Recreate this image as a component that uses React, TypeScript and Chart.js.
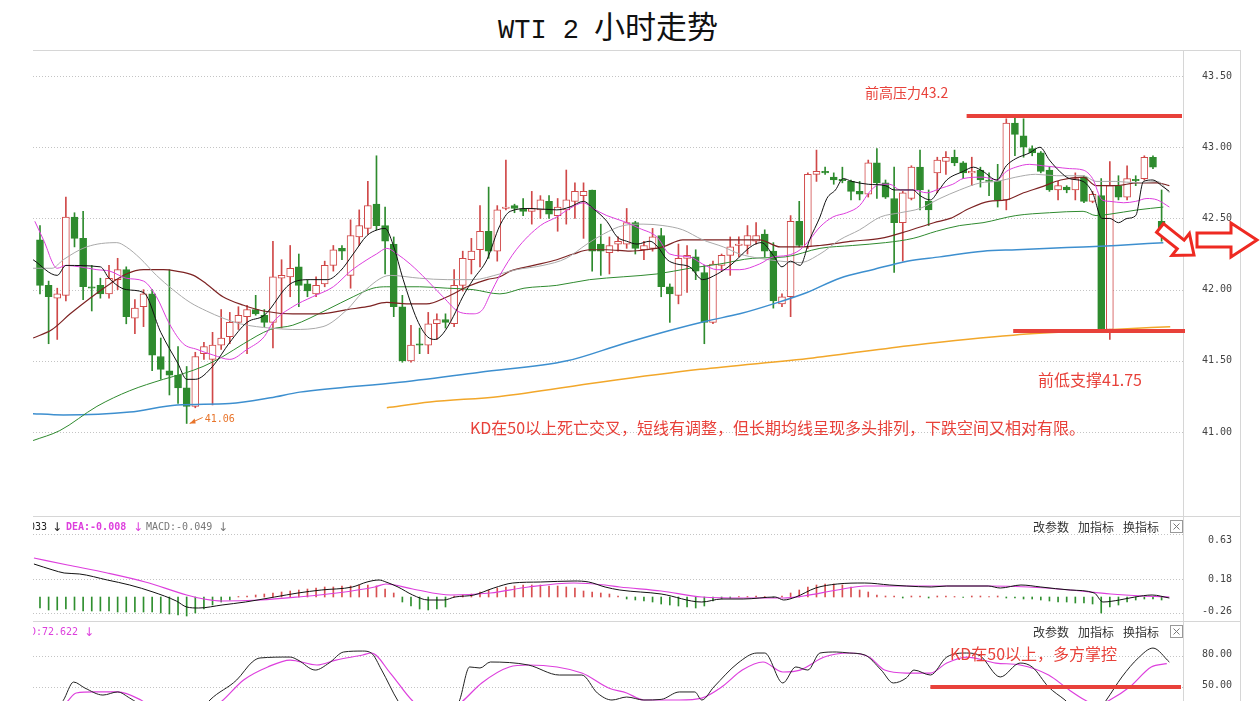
import React, { useEffect, useRef } from 'react';
import { Chart, registerables } from 'chart.js';
Chart.register(...registerables);

// ---------------- data ----------------
const X_MIN = -0.81;
const X_MAX = 132.48;

const opens = [42.35,42.03,41.94,41.96,42.51,42.36,42.02,42.03,41.97,42.07,42.14,41.80,41.88,41.97,41.53,41.43,41.40,41.31,41.18,41.55,41.51,41.61,41.67,41.77,41.81,41.86,41.82,41.77,42.08,42.09,42.16,42.04,41.97,42.04,42.17,42.29,42.10,42.37,42.43,42.60,42.45,42.32,41.88,41.50,41.62,41.61,41.76,41.79,41.76,42.03,42.21,42.28,42.41,42.27,42.57,42.59,42.57,42.55,42.56,42.62,42.52,42.56,42.62,42.66,42.70,42.32,42.26,42.32,42.32,42.47,42.28,42.29,42.38,42.02,41.96,42.22,42.23,42.12,41.77,42.17,42.24,42.31,42.31,42.34,42.39,42.27,41.90,41.95,42.48,42.30,42.81,42.83,42.79,42.775,42.76,42.69,42.67,42.89,42.75,42.64,42.47,42.64,42.86,42.62,42.82,42.90,42.93,42.89,42.82,42.84,42.77,42.76,42.63,43.17,43.08,42.99,42.96,42.84,42.70,42.72,42.70,42.79,42.62,42.66,41.72,42.73,42.65,42.775,42.78,42.93,42.48];
const highs = [42.45,42.06,42.01,42.65,42.54,42.55,42.17,42.08,42.17,42.22,42.16,41.93,42.00,42.00,41.66,42.14,41.60,41.46,41.56,41.63,41.70,41.86,41.84,41.88,41.89,41.96,41.86,42.34,42.21,42.31,42.25,42.07,42.09,42.20,42.31,42.31,42.49,42.56,42.76,42.94,42.58,42.37,41.96,41.75,41.73,41.84,41.83,41.83,42.14,42.27,42.36,42.59,42.72,42.59,42.91,42.60,42.64,42.69,42.66,42.66,42.64,42.84,42.75,42.75,42.70,42.46,42.37,42.37,42.57,42.48,42.34,42.43,42.43,42.04,42.32,42.31,42.28,42.17,42.20,42.25,42.37,42.37,42.45,42.47,42.42,42.33,41.97,42.52,42.62,42.82,42.98,42.86,42.82,42.86,42.77,42.76,42.91,42.99,42.77,42.86,42.69,42.87,42.98,42.70,42.93,42.97,42.98,42.90,42.93,42.86,42.82,42.88,43.20,43.21,43.20,43.01,42.97,42.86,42.76,42.73,42.82,42.80,42.69,42.78,42.90,42.80,42.87,42.80,42.94,42.94,42.70];
const lows = [41.97,41.62,41.65,41.92,42.30,41.93,41.85,41.94,41.94,42.00,41.76,41.69,41.74,41.43,41.37,41.26,41.20,41.06,41.17,41.51,41.19,41.58,41.62,41.72,41.55,41.82,41.74,41.59,41.73,41.95,41.88,41.95,41.95,42.02,42.13,42.21,42.01,42.31,42.39,42.42,42.11,41.81,41.49,41.49,41.55,41.55,41.65,41.73,41.74,41.99,42.11,42.16,42.22,42.20,42.56,42.54,42.52,42.46,42.50,42.50,42.41,42.46,42.50,42.36,42.13,42.10,42.11,42.27,42.29,42.25,42.21,42.27,41.95,41.77,41.90,41.98,42.07,41.62,41.76,42.13,42.10,42.23,42.25,42.32,42.23,41.87,41.88,41.81,42.30,42.29,42.76,42.81,42.74,42.75,42.63,42.63,42.65,42.64,42.64,42.12,42.20,42.63,42.56,42.45,42.68,42.81,42.87,42.78,42.73,42.72,42.66,42.58,42.56,42.94,42.93,42.94,42.82,42.69,42.63,42.68,42.63,42.61,42.61,41.71,41.65,42.63,42.63,42.73,42.77,42.85,42.34];
const closes = [42.03,41.95,41.97,42.51,42.36,42.02,42.01,41.97,42.08,42.14,41.81,41.87,41.97,41.54,41.44,41.40,41.31,41.18,41.53,41.60,41.61,41.66,41.77,41.82,41.86,41.83,41.77,42.09,42.10,42.15,42.03,41.99,42.03,42.17,42.28,42.27,42.38,42.45,42.59,42.45,42.34,41.88,41.50,41.61,41.61,41.76,41.79,41.77,42.03,42.22,42.27,42.41,42.27,42.56,42.58,42.57,42.55,42.57,42.63,42.53,42.58,42.63,42.69,42.69,42.27,42.27,42.31,42.34,42.47,42.29,42.31,42.37,42.02,41.97,42.22,42.24,42.13,41.77,42.18,42.24,42.30,42.32,42.38,42.38,42.27,41.92,41.95,42.48,42.31,42.81,42.83,42.82,42.77,42.765,42.69,42.67,42.89,42.75,42.65,42.47,42.68,42.86,42.70,42.56,42.91,42.93,42.89,42.82,42.83,42.77,42.76,42.63,43.17,43.09,43.00,42.96,42.83,42.70,42.73,42.70,42.78,42.62,42.67,41.72,42.73,42.65,42.78,42.765,42.93,42.86,42.43];

// moving average lines: [candle index, price]
const ma5: [number, number][] = [[-0.8,42.21],[2,42.10],[3,42.17],[7,42.16],[8,42.08],[10,42.00],[12,41.98],[14,41.70],[16,41.48],[17,41.37],[18,41.37],[20,41.46],[22,41.63],[24,41.77],[26,41.82],[29,42.04],[31.3,42.07],[33.3,42.07],[34.8,42.13],[36.3,42.25],[37.9,42.38],[39.1,42.42],[40,42.43],[40.9,42.32],[42.1,42.07],[43.7,41.79],[44.9,41.67],[45.8,41.65],[46.7,41.69],[47.9,41.81],[49,41.95],[50.2,42.07],[51.8,42.21],[53.3,42.45],[54.5,42.55],[56.8,42.57],[59.9,42.56],[61.4,42.58],[63,42.62],[64.1,42.57],[65.7,42.48],[66.9,42.37],[68,42.34],[69.2,42.32],[70.7,42.34],[71.6,42.30],[72.7,42.21],[73.8,42.18],[75.3,42.16],[76.8,42.07],[78.5,42.11],[80,42.17],[82.6,42.31],[83.6,42.33],[85,42.24],[86,42.16],[87,42.20],[88.1,42.17],[89.2,42.35],[90.4,42.51],[91.2,42.64],[92.2,42.70],[93.1,42.78],[94.1,42.76],[96,42.74],[98,42.73],[99,42.70],[101.2,42.70],[102,42.66],[103.2,42.63],[104.2,42.70],[105.1,42.77],[107,42.83],[108.2,42.86],[109.3,42.83],[110.9,42.77],[112,42.87],[113.1,42.92],[114.7,42.96],[115.9,43.00],[117,42.91],[118.2,42.83],[119.3,42.78],[120.9,42.76],[122,42.68],[123.1,42.50],[124,42.50],[125,42.47],[126,42.50],[127,42.52],[127.9,42.76],[129,42.77],[130,42.73],[130.9,42.69]];
const ma10: [number, number][] = [[-0.6,42.48],[0.4,42.35],[2,42.15],[3,42.17],[4.6,42.16],[6.6,42.14],[8.1,42.13],[10,42.08],[12,42.06],[13.5,41.95],[15,41.76],[16.6,41.62],[18.2,41.58],[20.1,41.54],[22,41.51],[24,41.58],[26,41.67],[27,41.77],[29.3,41.88],[31.6,41.95],[34,42.02],[36,42.13],[37.9,42.21],[39,42.25],[40.2,42.29],[41.4,42.25],[42.9,42.18],[44.8,42.07],[46.7,41.95],[48.7,41.84],[50.2,41.83],[51.3,41.86],[52.2,41.97],[53.3,42.10],[55.2,42.28],[58,42.45],[59.9,42.51],[61.4,42.57],[63,42.61],[64.1,42.57],[65.7,42.52],[67.6,42.48],[69.5,42.43],[71.5,42.37],[73,42.25],[75.3,42.23],[76.8,42.18],[78.5,42.14],[81.1,42.14],[83.4,42.18],[85,42.23],[86.6,42.24],[88.1,42.28],[89.2,42.35],[90.4,42.44],[91.9,42.51],[93.5,42.54],[95,42.59],[96.2,42.69],[97.4,42.74],[98.5,42.74],[99.7,42.70],[101.2,42.70],[102.8,42.68],[104.3,42.71],[105.8,42.74],[107,42.78],[109.3,42.79],[110.9,42.77],[112,42.83],[113.1,42.86],[114.7,42.88],[116.2,42.87],[117.8,42.86],[119.3,42.85],[120.9,42.84],[122,42.78],[123.1,42.63],[124,42.62],[125.6,42.61],[127,42.62],[128.3,42.64],[129.5,42.63],[130.9,42.58]];
const ma20: [number, number][] = [[-0.8,42.15],[1.4,42.15],[2.7,42.21],[5.4,42.30],[8.9,42.33],[10,42.30],[11.6,42.22],[13.5,42.10],[15.4,42.00],[17.4,41.91],[19.3,41.85],[21.2,41.80],[23.2,41.76],[25.1,41.74],[26.7,41.73],[29.3,41.72],[32.8,41.74],[35.6,41.86],[37.4,41.98],[40.6,42.10],[44,42.08],[47.2,42.07],[50.2,42.07],[53.3,42.11],[55.2,42.14],[58.3,42.17],[61,42.22],[63.4,42.32],[65.3,42.39],[67.6,42.45],[69.9,42.46],[72.2,42.45],[74.5,42.42],[76.8,42.35],[79.2,42.30],[81.1,42.25],[83.4,42.22],[85.8,42.20],[88.1,42.19],[90.4,42.25],[92.7,42.35],[95,42.42],[97.4,42.51],[99.7,42.54],[102,42.57],[104.3,42.64],[106.6,42.70],[109,42.75],[110.9,42.76],[113.1,42.79],[115.4,42.81],[117.8,42.80],[120.9,42.80],[122.4,42.76],[124.7,42.76],[127.2,42.75],[129.5,42.76],[130.9,42.68]];
const ma30: [number, number][] = [[-0.8,41.66],[1.4,41.72],[3.5,41.83],[5.8,41.94],[8.1,42.04],[10,42.11],[12,42.14],[14.3,42.14],[15.8,42.13],[17.8,42.10],[19.3,42.04],[21.2,41.95],[23.6,41.89],[25.9,41.85],[29.3,41.83],[32.5,41.83],[35.6,41.86],[37.9,41.88],[40.2,41.91],[42.5,41.90],[44.8,41.90],[47.2,41.95],[49.5,42.02],[51.8,42.07],[53.3,42.09],[54.5,42.13],[57.2,42.17],[59.9,42.21],[61.8,42.25],[63.7,42.28],[65.7,42.28],[68.4,42.27],[70.3,42.28],[72.2,42.30],[74.5,42.35],[76.8,42.35],[80,42.35],[83.4,42.35],[85.8,42.30],[88.1,42.30],[90.4,42.31],[94.2,42.34],[97.4,42.36],[100.5,42.41],[103.6,42.47],[105.5,42.50],[107.7,42.57],[110,42.62],[112,42.63],[114,42.68],[116,42.72],[118.3,42.77],[120.9,42.79],[122.4,42.73],[124.7,42.73],[127.2,42.75],[129.5,42.75],[130.9,42.73]];
const ma60: [number, number][] = [[-0.8,40.94],[2.3,41.01],[6.6,41.18],[10.4,41.29],[14.3,41.37],[16.6,41.41],[18.9,41.46],[21.2,41.53],[23.6,41.62],[26.7,41.72],[29.3,41.75],[33.3,41.86],[36.3,41.95],[38.6,42.01],[40.2,42.02],[44,42.02],[47.2,42.01],[50.2,42.00],[53.3,41.97],[56.1,42.01],[59.9,42.03],[63.7,42.07],[67.6,42.09],[71.5,42.11],[75.3,42.15],[78.8,42.18],[82.6,42.22],[86.4,42.23],[90.4,42.29],[94.2,42.31],[98,42.33],[101.2,42.36],[103.9,42.41],[106.6,42.45],[109.3,42.47],[113.1,42.52],[117,42.54],[120.9,42.55],[122.4,42.52],[124,42.53],[127.2,42.56],[130.2,42.58]];
const ma120: [number, number][] = [[-1.2,41.13],[2.7,41.12],[10.4,41.14],[15.9,41.19],[22,41.20],[26.7,41.24],[30.1,41.28],[41.7,41.35],[51,41.42],[61.1,41.50],[67.6,41.62],[73.4,41.72],[77.3,41.78],[81.1,41.83],[85,41.90],[88.9,41.98],[92.7,42.08],[96.5,42.14],[100.5,42.20],[104.3,42.23],[109.3,42.27],[113.2,42.28],[117.1,42.29],[120.9,42.30],[124.8,42.31],[130.2,42.33]];
const ma250: [number, number][] = [[40.2,41.17],[45.2,41.21],[53.3,41.25],[64.9,41.35],[76.5,41.44],[89.6,41.52],[101.2,41.61],[112.8,41.68],[124.4,41.72],[131,41.74]];

// MACD panel
const macdHist = [-0.11,-0.13,-0.13,-0.12,-0.13,-0.14,-0.14,-0.14,-0.14,-0.15,-0.15,-0.15,-0.15,-0.15,-0.16,-0.17,-0.18,
  -0.19,-0.16,-0.12,-0.08,-0.05,-0.03,0.005,0.01,
  0.02,0.03,0.04,0.05,0.06,0.07,0.08,0.09,0.10,0.10,0.11,0.11,0.12,0.12,0.11,0.08,0.04,
  -0.05,-0.09,-0.12,-0.13,-0.12,-0.10,
  0.01,0.02,0.03,0.05,0.07,
  0.09,0.10,0.11,0.12,0.12,0.12,0.11,0.11,0.10,0.09,
  0.06,0.05,0.04,0.03,0.01,
  -0.02,-0.03,-0.04,-0.05,-0.07,-0.08,-0.09,-0.10,-0.11,-0.09,
  -0.04,-0.02,-0.01,0.003,0.005,0.01,0.005,-0.005,0.01,
  0.04,0.07,0.10,0.12,0.13,0.13,0.12,0.10,0.07,0.05,0.02,
  0.01,0.01,-0.01,0.01,0.01,-0.01,0.01,0.01,0.005,-0.005,0.01,0.01,0.005,0.01,-0.01,-0.01,-0.02,-0.02,
  -0.03,-0.04,-0.05,-0.05,-0.06,-0.06,-0.07,
  -0.16,
  -0.10,-0.08,-0.05,
  -0.03,-0.02,-0.02,-0.03];
const dif: [number, number][] = [[-0.7,0.33],[1.5,0.27],[2.8,0.24],[4.6,0.23],[7.8,0.17],[10.4,0.12],[13.1,0.05],[15.8,-0.04],[17,-0.10],[18.4,-0.11],[21.1,-0.08],[23.8,-0.05],[27.2,0.0],[29.9,0.04],[32.6,0.07],[36.2,0.10],[37.9,0.15],[39.3,0.17],[40.1,0.15],[41.5,0.10],[43.2,0.02],[45,-0.03],[46.8,-0.03],[48.1,0.0],[50.3,0.02],[52.6,0.09],[54.8,0.14],[58,0.15],[61.9,0.16],[63.6,0.15],[65.5,0.10],[67.2,0.07],[72,0.03],[76.7,-0.05],[79,-0.02],[81.5,-0.02],[85.2,0.0],[86.2,-0.03],[87.6,0.0],[89.9,0.09],[92.4,0.13],[95.6,0.14],[98.5,0.12],[100.4,0.11],[103.3,0.10],[105.1,0.11],[109.9,0.11],[111.3,0.09],[113.7,0.12],[116,0.10],[119.4,0.07],[122.2,0.04],[123.2,-0.05],[125.1,-0.03],[126.9,0.0],[128.9,0.02],[130.9,-0.01]];
const dea: [number, number][] = [[-0.7,0.39],[3.2,0.32],[7.8,0.24],[12.2,0.15],[17,0.02],[19,-0.02],[21.1,-0.04],[25.5,-0.03],[29.9,0.0],[34.4,0.04],[38.8,0.10],[40.1,0.13],[43.2,0.08],[47.6,0.02],[52.2,0.04],[56.6,0.10],[61.9,0.14],[65.5,0.12],[67.2,0.10],[72,0.06],[76.7,0.0],[81.5,-0.01],[86.2,-0.01],[88.5,0.01],[92.4,0.07],[95.6,0.11],[100.4,0.11],[105.1,0.11],[109.9,0.11],[114.6,0.10],[119.4,0.07],[124.1,0.03],[127.8,0.01],[130.9,0.0]];

// KD panel
const kLine: [number, number][] = [[-0.8,20],[1.5,25],[2.7,37],[3.9,54.8],[5.2,49],[7.3,42.2],[9,45.2],[10.4,39.3],[12.2,30],[15,22],[18.5,25],[19.7,37.4],[22.8,56.8],[24.6,74.2],[25.5,78.1],[29,79],[29.9,76.1],[31.9,66.4],[33.5,73.2],[35.2,83.9],[37.4,84.8],[38.4,82.9],[39.6,66.4],[41.5,36.4],[43,20],[47,18],[48.6,36.4],[49.8,69.4],[51,68.4],[52.2,74.2],[56.6,71.3],[60.2,61.6],[62.8,61.6],[64.6,44.2],[66.3,37.4],[68,40.3],[70,37.4],[72,38],[74.1,45.2],[75.9,45.2],[76.7,37.4],[78.1,50],[80.9,73.2],[83.1,82.9],[84,82.9],[86.1,53.9],[87.6,69.4],[89,66.4],[90.4,82.9],[92.3,83.9],[93.8,82.9],[95.6,81],[97.5,66.4],[98.9,53.9],[100.4,58.7],[101.3,66.4],[103.2,61.6],[105.1,79],[107.4,82.9],[109,80],[111.3,59.7],[113.6,73.2],[115,69.4],[116.9,50],[118.8,37.4],[120.5,25],[122.5,25],[123.6,37.4],[125.4,59.7],[127.3,78.1],[129,87.7],[130.9,74.2]];
const dLine: [number, number][] = [[-0.8,15],[2,25],[3.2,36.4],[4.2,44.2],[6.4,45.2],[9,45.2],[11.7,37.4],[14,25],[19,24],[21.1,36.4],[23.6,56.8],[26.4,69.4],[29,76.1],[32.1,71.3],[34.3,76.1],[37.4,81],[38.4,82.9],[40.6,63.5],[43.2,36.4],[45,27],[47.5,27],[49,36.4],[51.2,53.9],[54.4,69.4],[56.6,71.3],[62.8,63.5],[65.9,49],[68,44.2],[70,37.4],[74.1,37.4],[76.7,39.3],[79,50],[81.4,66.4],[83.8,74.2],[86.1,64.5],[88.1,66.4],[90.9,79],[93.8,82.9],[96.1,79],[97.9,66.4],[100.4,63.5],[103.2,63.5],[105.1,73.2],[107.4,79],[110.8,73.2],[113.6,71.3],[116.9,61.6],[119.3,47.1],[121.1,37.4],[122.5,32],[124,37.4],[126.3,50],[128.8,69.4],[130.6,72.6]];

// axis ticks
const mainTicks = [43.5, 43.0, 42.5, 42.0, 41.5, 41.0];
const macdTicks = [0.63, 0.18, -0.26];
const kdTicks = [80, 50];

// annotation values
const resistance = 43.22;
const support = 41.71;
const lowMark = { index: 17, value: 41.06 };

// ---------------- styles ----------------
const UP = '#d04848';
const DOWN = '#2e8b2e';
const RED = '#e8413a';
const MAGENTA = '#dd3fdd';
const MONO = '"DejaVu Sans Mono", monospace';
const CJK = '"Noto Sans CJK SC", sans-serif';
const ARROW_FONT = '12px "DejaVu Sans", sans-serif';

const pts = (arr: [number, number][]) => arr.map(([x, y]) => ({ x, y }));
const lineDs = (arr: [number, number][], color: string, width = 1, order = 1) => ({
  type: 'line', data: pts(arr), borderColor: color, borderWidth: width, pointRadius: 0,
  cubicInterpolationMode: 'monotone', fill: false, order,
});

const baseOptions = (ymin: number, ymax: number) => ({
  responsive: false,
  animation: false,
  events: [],
  layout: { padding: { left: 33, right: 77, top: 0, bottom: 0 } },
  plugins: { legend: { display: false }, tooltip: { enabled: false }, title: { display: false } },
  scales: {
    x: { type: 'linear', min: X_MIN, max: X_MAX, display: false, offset: false },
    y: { type: 'linear', min: ymin, max: ymax, display: false },
  },
});

function frame(ctx: CanvasRenderingContext2D, h: number) {
  ctx.save();
  ctx.strokeStyle = '#d6d6d6';
  ctx.lineWidth = 1;
  ctx.setLineDash([]);
  ctx.beginPath();
  ctx.moveTo(33, 0.5); ctx.lineTo(1241, 0.5);
  ctx.moveTo(1183.5, 0); ctx.lineTo(1183.5, h);
  ctx.moveTo(1240.5, 0); ctx.lineTo(1240.5, h);
  ctx.stroke();
  ctx.restore();
}

function dottedGrid(chart: any, values: number[], clampLo: number, clampHi: number) {
  const { ctx, chartArea, scales } = chart;
  ctx.save();
  ctx.strokeStyle = '#c4c4c4';
  ctx.lineWidth = 1;
  ctx.setLineDash([1, 2]);
  values.forEach((v) => {
    let py = scales.y.getPixelForValue(v);
    py = Math.min(clampHi, Math.max(clampLo, py));
    py = Math.round(py) + 0.5;
    ctx.beginPath();
    ctx.moveTo(chartArea.left, py);
    ctx.lineTo(chartArea.right, py);
    ctx.stroke();
  });
  ctx.restore();
}

function tickLabels(chart: any, values: number[], fmt: (v: number) => string, clampLo: number, clampHi: number, dy = 0) {
  const { ctx, scales } = chart;
  ctx.save();
  ctx.fillStyle = '#444';
  ctx.font = '10px ' + MONO;
  ctx.textAlign = 'right';
  ctx.textBaseline = 'middle';
  values.forEach((v) => {
    let py = scales.y.getPixelForValue(v) + dy;
    py = Math.min(clampHi, Math.max(clampLo, py));
    ctx.fillText(fmt(v), 1232, py);
  });
  ctx.restore();
}

function panelButtons(ctx: CanvasRenderingContext2D) {
  ctx.save();
  ctx.fillStyle = '#333';
  ctx.font = '12px ' + CJK;
  ctx.textBaseline = 'middle';
  ctx.textAlign = 'left';
  ctx.fillText('改参数', 1033, 11);
  ctx.fillText('加指标', 1078, 11);
  ctx.fillText('换指标', 1123, 11);
  ctx.strokeStyle = '#999';
  ctx.lineWidth = 1;
  ctx.strokeRect(1170.5, 4.5, 12, 12);
  ctx.strokeStyle = '#777';
  ctx.beginPath();
  ctx.moveTo(1173.5, 7.5); ctx.lineTo(1179.5, 13.5);
  ctx.moveTo(1179.5, 7.5); ctx.lineTo(1173.5, 13.5);
  ctx.stroke();
  ctx.restore();
}

function downArrow(ctx: CanvasRenderingContext2D, x: number, y: number) {
  const f = ctx.font;
  ctx.font = ARROW_FONT;
  ctx.fillText('↓', x, y);
  ctx.font = f;
}

function hollowArrow(ctx: CanvasRenderingContext2D, x1: number, y1: number, x2: number, y2: number, shaftW: number, headW: number, headL: number) {
  const dx = x2 - x1, dy = y2 - y1;
  const len = Math.hypot(dx, dy);
  const ux = dx / len, uy = dy / len;
  const nx = -uy, ny = ux;
  const bx = x2 - ux * headL, by = y2 - uy * headL;
  const p = [
    [x1 + nx * shaftW / 2, y1 + ny * shaftW / 2],
    [bx + nx * shaftW / 2, by + ny * shaftW / 2],
    [bx + nx * headW / 2, by + ny * headW / 2],
    [x2, y2],
    [bx - nx * headW / 2, by - ny * headW / 2],
    [bx - nx * shaftW / 2, by - ny * shaftW / 2],
    [x1 - nx * shaftW / 2, y1 - ny * shaftW / 2],
  ];
  ctx.beginPath();
  p.forEach(([a, b], i) => (i ? ctx.lineTo(a, b) : ctx.moveTo(a, b)));
  ctx.closePath();
  ctx.fillStyle = '#fff';
  ctx.fill();
  ctx.stroke();
}

// ---------------- plugins ----------------
const mainPlugin = {
  id: 'mainDeco',
  beforeDatasetsDraw(chart: any) {
    dottedGrid(chart, mainTicks, 0, 1000);
  },
  afterDatasetsDraw(chart: any) {
    const { ctx, chartArea, scales } = chart;
    const { x, y } = scales;
    frame(ctx, chart.height);
    tickLabels(chart, mainTicks, (v) => v.toFixed(2), 0, 1000);

    ctx.save();
    // resistance / support lines
    ctx.strokeStyle = RED;
    ctx.lineWidth = 4;
    ctx.beginPath();
    const ry = y.getPixelForValue(resistance);
    ctx.moveTo(x.getPixelForValue(107.4), ry); ctx.lineTo(chartArea.right - 1, ry);
    ctx.stroke();
    ctx.beginPath();
    const sy = y.getPixelForValue(support);
    ctx.moveTo(x.getPixelForValue(112.8), sy); ctx.lineTo(chartArea.right + 2, sy);
    ctx.stroke();

    // texts
    ctx.fillStyle = RED;
    ctx.textBaseline = 'middle';
    ctx.textAlign = 'left';
    ctx.font = '14px ' + CJK;
    ctx.fillText('前高压力43.2', 865, 93 - 50);
    ctx.font = '16px ' + CJK;
    ctx.fillText('前低支撑41.75', 1038, 380 - 50);
    ctx.fillText('KD在50以上死亡交叉，短线有调整，但长期均线呈现多头排列，下跌空间又相对有限。', 470, 428 - 50);

    // low marker
    const lx = x.getPixelForValue(lowMark.index) + 3;
    const ly = y.getPixelForValue(lowMark.value);
    ctx.strokeStyle = '#e8742a';
    ctx.fillStyle = '#e8742a';
    ctx.lineWidth = 1;
    ctx.beginPath();
    ctx.moveTo(lx, ly); ctx.lineTo(lx + 13, ly - 6);
    ctx.stroke();
    ctx.beginPath();
    ctx.moveTo(lx, ly); ctx.lineTo(lx + 5, ly - 5); ctx.lineTo(lx + 6, ly); ctx.closePath();
    ctx.fill();
    ctx.font = '10px ' + MONO;
    ctx.fillText(lowMark.value.toFixed(2), lx + 15, ly - 4);

    // red hollow arrows
    ctx.strokeStyle = '#ee2a22';
    ctx.lineWidth = 3;
    ctx.lineJoin = 'miter';
    hollowArrow(ctx, 1160, 178, 1194, 205, 11, 28, 17);
    hollowArrow(ctx, 1197, 190, 1257, 190, 14, 34, 26);
    ctx.restore();
  },
};

const macdPlugin = {
  id: 'macdDeco',
  beforeDatasetsDraw(chart: any) {
    dottedGrid(chart, macdTicks, 0, 97);
  },
  afterDatasetsDraw(chart: any) {
    const { ctx } = chart;
    frame(ctx, chart.height);
    tickLabels(chart, macdTicks, (v) => v.toFixed(2), 24, 95);
    panelButtons(ctx);
    ctx.save();
    ctx.beginPath(); ctx.rect(33, 0, 600, 22); ctx.clip();
    ctx.textBaseline = 'middle';
    ctx.font = '10px ' + MONO;
    ctx.fillStyle = '#222';
    ctx.textAlign = 'right';
    ctx.fillText('DIF:-0.033', 47, 11);
    ctx.textAlign = 'left';
    downArrow(ctx, 52, 12);
    ctx.fillStyle = MAGENTA;
    ctx.font = 'bold 10px ' + MONO;
    ctx.fillText('DEA:-0.008', 66, 11);
    downArrow(ctx, 133, 12);
    ctx.fillStyle = '#777';
    ctx.font = '10px ' + MONO;
    ctx.fillText('MACD:-0.049', 146, 11);
    downArrow(ctx, 218, 12);
    ctx.restore();
  },
};

const kdPlugin = {
  id: 'kdDeco',
  beforeDatasetsDraw(chart: any) {
    dottedGrid(chart, kdTicks, 0, 200);
  },
  afterDatasetsDraw(chart: any) {
    const { ctx, chartArea, scales } = chart;
    frame(ctx, chart.height);
    tickLabels(chart, kdTicks, (v) => v.toFixed(2), 0, 200, -2);
    panelButtons(ctx);
    ctx.save();
    ctx.beginPath(); ctx.rect(33, 0, 600, 22); ctx.clip();
    ctx.textBaseline = 'middle';
    ctx.font = '10px ' + MONO;
    ctx.fillStyle = MAGENTA;
    ctx.textAlign = 'left';
    const dw = ctx.measureText('D').width;
    ctx.fillText('D:72.622', 36 - dw, 11);
    downArrow(ctx, 84, 12);
    ctx.restore();

    ctx.save();
    ctx.strokeStyle = RED;
    ctx.lineWidth = 4;
    const y50 = scales.y.getPixelForValue(50);
    ctx.beginPath();
    ctx.moveTo(scales.x.getPixelForValue(103.2), y50); ctx.lineTo(chartArea.right - 2, y50);
    ctx.stroke();
    ctx.fillStyle = RED;
    ctx.font = '16px ' + CJK;
    ctx.textBaseline = 'middle';
    ctx.fillText('KD在50以上，多方掌控', 950, 33);
    ctx.restore();
  },
};

// ---------------- component ----------------
export default function App() {
  const mainRef = useRef<HTMLCanvasElement>(null);
  const macdRef = useRef<HTMLCanvasElement>(null);
  const kdRef = useRef<HTMLCanvasElement>(null);

  useEffect(() => {
    const idx = opens.map((_, i) => i);
    const isUp = (i: number) => closes[i] >= opens[i];

    const main = new Chart(mainRef.current!, {
      type: 'bar',
      data: {
        datasets: [
          lineDs(ma5, '#111111', 1, 1),
          lineDs(ma10, MAGENTA, 1, 2),
          lineDs(ma20, '#a9a9a9', 1, 3),
          lineDs(ma30, '#7d2323', 1.2, 4),
          lineDs(ma60, '#2f8a2f', 1, 5),
          lineDs(ma120, '#3d8fcf', 1.5, 6),
          lineDs(ma250, '#f2a72a', 1.5, 7),
          {
            type: 'bar',
            data: idx.map((i) => ({ x: i, y: [opens[i], closes[i]] })),
            backgroundColor: (c: any) => (isUp(c.dataIndex) ? '#ffffff' : DOWN),
            borderColor: (c: any) => (isUp(c.dataIndex) ? UP : DOWN),
            borderWidth: 1,
            borderSkipped: false,
            barThickness: 7,
            minBarLength: 1,
            grouped: false,
            order: 9,
          },
          {
            type: 'bar',
            data: idx.map((i) => ({ x: i, y: [lows[i], highs[i]] })),
            backgroundColor: (c: any) => (isUp(c.dataIndex) ? UP : DOWN),
            borderWidth: 0,
            barThickness: 1,
            grouped: false,
            order: 10,
          },
        ] as any,
      },
      options: baseOptions(40.41, 43.683) as any,
      plugins: [mainPlugin],
    });

    const macd = new Chart(macdRef.current!, {
      type: 'bar',
      data: {
        datasets: [
          lineDs(dif, '#111111', 1, 1),
          lineDs(dea, MAGENTA, 1.2, 2),
          {
            type: 'bar',
            data: idx.map((i) => ({ x: i, y: macdHist[i] })),
            backgroundColor: (c: any) => (macdHist[c.dataIndex] >= 0 ? '#d85050' : '#2f8f2f'),
            borderWidth: 0,
            barThickness: 1,
            grouped: false,
            order: 5,
          },
        ] as any,
      },
      options: baseOptions(-0.24, 0.81) as any,
      plugins: [macdPlugin],
    });

    const kd = new Chart(kdRef.current!, {
      type: 'line',
      data: {
        datasets: [
          lineDs(kLine, '#222222', 1, 1),
          lineDs(dLine, MAGENTA, 1.2, 2),
        ] as any,
      },
      options: baseOptions(7.4, 113.9) as any,
      plugins: [kdPlugin],
    });

    return () => {
      main.destroy();
      macd.destroy();
      kd.destroy();
    };
  }, []);

  return (
    <div style={{ position: 'fixed', left: 0, top: 0, width: 1260, height: 701, overflow: 'hidden', background: '#fff' }}>
      <div style={{ position: 'absolute', left: 33, top: 6, width: 1150, textAlign: 'center', lineHeight: '38px', color: '#111', whiteSpace: 'nowrap' }}>
        <span style={{ fontFamily: '"Liberation Mono", monospace', fontSize: 27 }}>WTI 2</span>
        <span style={{ fontFamily: CJK, fontSize: 31, marginLeft: 15 }}>小时走势</span>
      </div>
      <canvas ref={mainRef} width={1260} height={466} style={{ position: 'absolute', left: 0, top: 50, width: 1260, height: 466 }} />
      <canvas ref={macdRef} width={1260} height={105} style={{ position: 'absolute', left: 0, top: 516, width: 1260, height: 105 }} />
      <canvas ref={kdRef} width={1260} height={110} style={{ position: 'absolute', left: 0, top: 621, width: 1260, height: 110 }} />
    </div>
  );
}
